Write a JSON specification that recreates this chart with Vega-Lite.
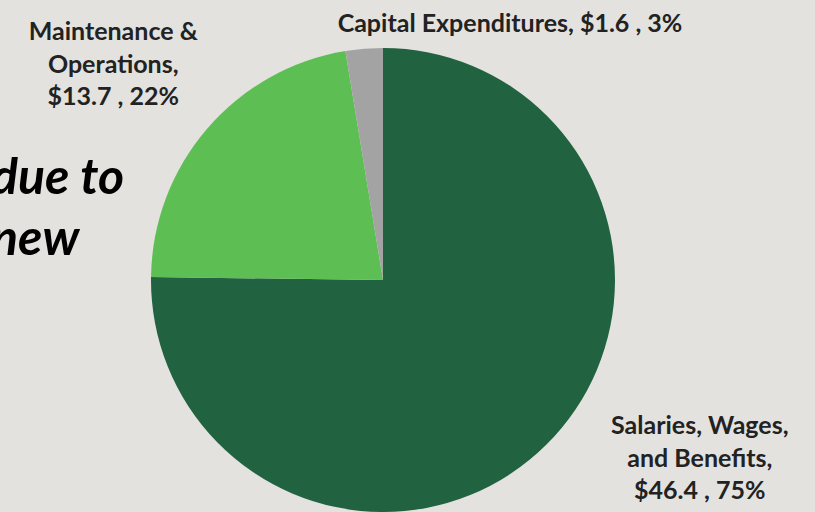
{
  "$schema": "https://vega.github.io/schema/vega-lite/v6.json",
  "width": 766,
  "height": 464,
  "autosize": {"type": "none"},
  "padding": {"left": 0, "top": 48, "right": 49, "bottom": 0},
  "background": "#E3E2DF",
  "title": {
    "text": ["due to", "new"],
    "orient": "top",
    "anchor": "start",
    "frame": "group",
    "font": "Lato",
    "fontStyle": "italic",
    "fontWeight": "bold",
    "fontSize": 50,
    "lineHeight": 61,
    "color": "#000000",
    "baseline": "alphabetic",
    "offset": 0,
    "dx": -9,
    "dy": 403
  },
  "data": {
    "values": [
      {"category": "Salaries, Wages, and Benefits", "amount": 46.4, "label": "Salaries, Wages,\nand Benefits,\n$46.4 , 75%"},
      {"category": "Maintenance & Operations", "amount": 13.7, "label": "Maintenance &\nOperations,\n$13.7 , 22%"},
      {"category": "Capital Expenditures", "amount": 1.6, "label": "Capital Expenditures,  $1.6 , 3%"}
    ]
  },
  "encoding": {
    "theta": {"field": "amount", "type": "quantitative", "stack": "zero"},
    "order": {"field": "amount", "type": "quantitative", "sort": "descending"}
  },
  "layer": [
    {
      "mark": {"type": "arc", "outerRadius": 232, "stroke": null},
      "encoding": {
        "color": {
          "field": "category",
          "type": "nominal",
          "scale": {
            "domain": ["Salaries, Wages, and Benefits", "Maintenance & Operations", "Capital Expenditures"],
            "range": ["#216240", "#5DBF53", "#A3A3A3"]
          },
          "legend": null
        }
      }
    },
    {
      "mark": {"type": "text", "radius": 300, "dx": 106, "dy": -67, "font": "Lato", "fontWeight": "bold", "fontSize": 25, "lineHeight": 32.5, "lineBreak": "\n", "align": "center", "baseline": "middle", "color": "#222222"},
      "encoding": {"text": {"condition": {"test": "datum.category === 'Salaries, Wages, and Benefits'", "field": "label"}, "value": ""}}
    },
    {
      "mark": {"type": "text", "radius": 340, "dx": -12, "dy": -26, "font": "Lato", "fontWeight": "bold", "fontSize": 25, "lineHeight": 32.5, "lineBreak": "\n", "align": "center", "baseline": "middle", "color": "#222222"},
      "encoding": {"text": {"condition": {"test": "datum.category === 'Maintenance & Operations'", "field": "label"}, "value": ""}}
    },
    {
      "mark": {"type": "text", "radius": 258, "dx": 148, "dy": 1, "font": "Lato", "fontWeight": "bold", "fontSize": 25, "lineHeight": 32.5, "lineBreak": "\n", "align": "center", "baseline": "middle", "color": "#222222"},
      "encoding": {"text": {"condition": {"test": "datum.category === 'Capital Expenditures'", "field": "label"}, "value": ""}}
    }
  ]
}
